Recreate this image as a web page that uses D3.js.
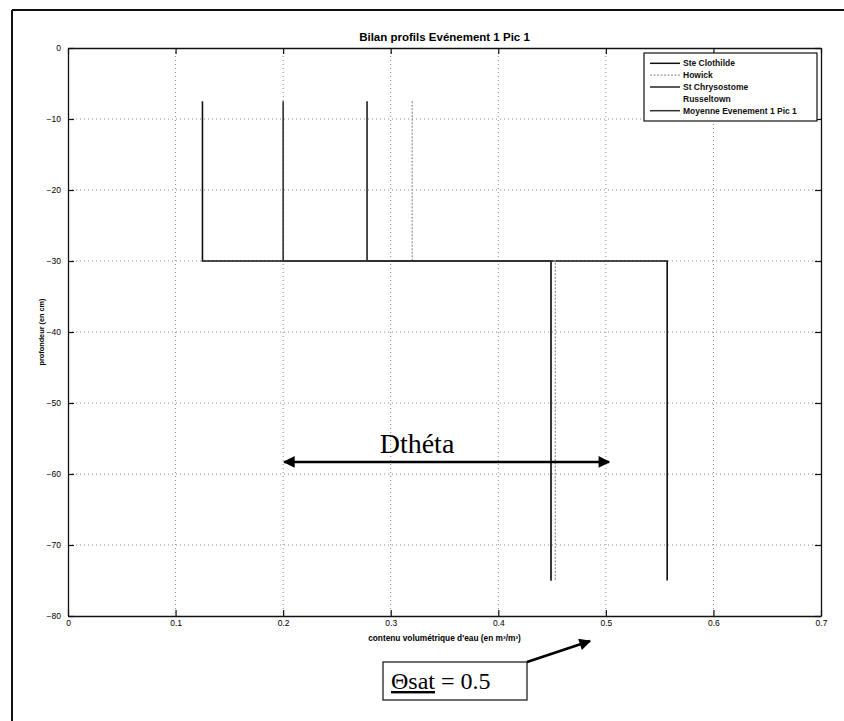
<!DOCTYPE html>
<html><head><meta charset="utf-8">
<script src="https://cdn.jsdelivr.net/npm/d3@7"></script>
<style>body{margin:0;background:#fff}svg{display:block}</style>
</head><body>
<svg id="c" width="844" height="721"></svg>
<script>
// ---- data ----
const seriesNames = ["Ste Clothilde","Howick","St Chrysostome","Russeltown","Moyenne Evenement 1 Pic 1"];
const thetaTop    = [0.125, 0.32, 0.278, 0.075, 0.2];     // 0 to -30 cm layer
const thetaBottom = [0.557, 0.453, 0.449, 0.337, 0.449];  // -30 to -75 cm layer
const depthTop = -7.5, depthMid = -30, depthBottom = -75;
const seriesColors = ["#111","#9a9a9a","#222","#ffffff","#333"];
const seriesDash   = [null,"2,1.5",null,null,null];
const xTicks = [0,0.1,0.2,0.3,0.4,0.5,0.6,0.7];
const yTicks = [0,-10,-20,-30,-40,-50,-60,-70,-80];
const dthetaRange = [0.2, 0.503]; const dthetaDepth = -58.3;

const svg = d3.select("#c");
const L=68,R=821,T=48,B=616;
const x = d3.scaleLinear().domain([0,0.7]).range([L,R]);
const y = d3.scaleLinear().domain([-80,0]).range([B,T]);

// outer frame
svg.append("line").attr("x1",12).attr("y1",10).attr("x2",844).attr("y2",10).attr("stroke","#111").attr("stroke-width",2);
svg.append("line").attr("x1",12).attr("y1",10).attr("x2",12).attr("y2",721).attr("stroke","#111").attr("stroke-width",2);

const lineGen = d3.line().x(d=>x(d[0])).y(d=>y(d[1]));
const profile = i => [[thetaTop[i],depthTop],[thetaTop[i],depthMid],[thetaBottom[i],depthMid],[thetaBottom[i],depthBottom]];

// invisible (white) series drawn under grid
svg.append("path").attr("d",lineGen(profile(3))).attr("fill","none").attr("stroke",seriesColors[3]).attr("stroke-width",1.5);

// grid
const grid = svg.append("g").attr("stroke","#8a8a8a").attr("stroke-width",1).attr("stroke-dasharray","1,3");
xTicks.slice(1,-1).forEach(t=>grid.append("line").attr("x1",x(t)).attr("x2",x(t)).attr("y1",T).attr("y2",B));
yTicks.slice(1,-1).forEach(t=>grid.append("line").attr("y1",y(t)).attr("y2",y(t)).attr("x1",L).attr("x2",R));

// series
[0,1,2,4].forEach(i=>{
  svg.append("path").attr("d",lineGen(profile(i))).attr("fill","none")
    .attr("stroke",seriesColors[i]).attr("stroke-width",i===1?1.3:1.6)
    .attr("stroke-dasharray",seriesDash[i]);
});

// axes
const fontAx = "Arial, 'Liberation Sans', sans-serif";
const gx = svg.append("g").attr("transform",`translate(0,${B})`)
  .call(d3.axisBottom(x).tickValues(xTicks).tickFormat(d=>d===0?"0":d3.format(".1f")(d)).tickSizeInner(-6).tickSizeOuter(0).tickPadding(4));
const gxt = svg.append("g").attr("transform",`translate(0,${T})`)
  .call(d3.axisTop(x).tickValues(xTicks).tickFormat("").tickSizeInner(-6).tickSizeOuter(0));
const gy = svg.append("g").attr("transform",`translate(${L},0)`)
  .call(d3.axisLeft(y).tickValues(yTicks).tickFormat(d3.format("d")).tickSizeInner(-6).tickSizeOuter(0).tickPadding(7));
const gyr = svg.append("g").attr("transform",`translate(${R},0)`)
  .call(d3.axisRight(y).tickValues(yTicks).tickFormat("").tickSizeInner(-6).tickSizeOuter(0));
[gx,gxt,gy,gyr].forEach(g=>{
  g.select(".domain").attr("stroke","#111").attr("stroke-width",1.3);
  g.selectAll(".tick line").attr("stroke","#111").attr("stroke-width",1.2);
  g.selectAll("text").attr("font-family",fontAx).attr("font-size",8.5).attr("fill","#000");
});

// title & labels
svg.append("text").attr("x",(L+R)/2).attr("y",41).attr("text-anchor","middle")
  .attr("font-family",fontAx).attr("font-weight","bold").attr("font-size",11.5).text("Bilan profils Evénement 1 Pic 1");
svg.append("text").attr("x",(L+R)/2).attr("y",641).attr("text-anchor","middle")
  .attr("font-family",fontAx).attr("font-weight","bold").attr("font-size",8.3).text("contenu volumétrique d'eau  (en m³/m³)");
svg.append("text").attr("transform",`translate(44,${(T+B)/2}) rotate(-90)`).attr("text-anchor","middle")
  .attr("font-family",fontAx).attr("font-weight","bold").attr("font-size",7.3).text("profondeur (en cm)");

// legend
const lg = svg.append("g");
lg.append("rect").attr("x",644).attr("y",53).attr("width",173).attr("height",68).attr("fill","#fff").attr("stroke","#111").attr("stroke-width",1.2);
seriesNames.forEach((n,i)=>{
  const yy = 63.3 + i*11.85;
  lg.append("line").attr("x1",650).attr("x2",680).attr("y1",yy).attr("y2",yy)
    .attr("stroke",seriesColors[i]).attr("stroke-width",i===1?1.2:1.5).attr("stroke-dasharray",seriesDash[i]);
  lg.append("text").attr("x",683).attr("y",yy+3).attr("font-family",fontAx).attr("font-weight","bold")
    .attr("font-size",8.5).attr("fill","#111").text(n);
});

// Dtheta annotation
const defs = svg.append("defs");
defs.append("marker").attr("id","ah").attr("viewBox","0 0 10 10").attr("refX",9).attr("refY",5)
  .attr("markerWidth",5).attr("markerHeight",4.5).attr("orient","auto-start-reverse").attr("markerUnits","strokeWidth")
  .append("path").attr("d","M0,0 L10,5 L0,10 z").attr("fill","#000");
svg.append("line").attr("x1",x(dthetaRange[0])+1).attr("x2",x(dthetaRange[1])).attr("y1",y(dthetaDepth)).attr("y2",y(dthetaDepth))
  .attr("stroke","#000").attr("stroke-width",2.6).attr("marker-start","url(#ah)").attr("marker-end","url(#ah)");
svg.append("text").attr("x",417).attr("y",453).attr("text-anchor","middle")
  .attr("font-family","'Liberation Serif','DejaVu Serif',serif").attr("font-size",28).attr("fill","#000").text("Dthéta");

// Osat box
svg.append("rect").attr("x",383).attr("y",662).attr("width",144).attr("height",38).attr("fill","#fff").attr("stroke","#222").attr("stroke-width",1.3);
const ot = svg.append("text").attr("x",391).attr("y",689).attr("font-family","'Liberation Serif','DejaVu Serif',serif").attr("font-size",24).attr("fill","#000");
ot.append("tspan").attr("text-decoration","underline").text("Θsat");
ot.append("tspan").text(" = 0.5");
svg.append("line").attr("x1",527).attr("y1",662).attr("x2",590).attr("y2",641)
  .attr("stroke","#000").attr("stroke-width",2.6).attr("marker-end","url(#ah)");
</script>
</body></html>
